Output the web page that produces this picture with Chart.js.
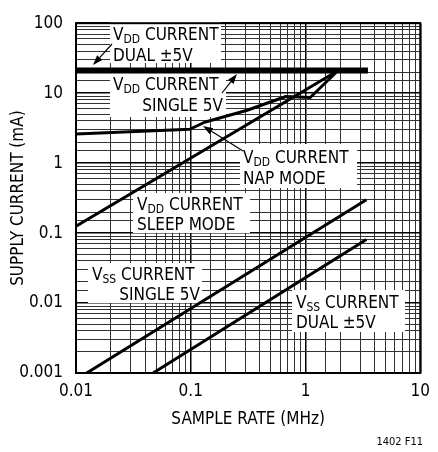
<!DOCTYPE html>
<html>
<head>
<meta charset="utf-8">
<script src="https://cdn.jsdelivr.net/npm/chart.js@4"></script>
<style>
  html, body { margin: 0; padding: 0; background: #fff; }
  canvas { display: block; }
</style>
</head>
<body>
<canvas id="chart" width="438" height="452"></canvas>
<script>
// tick labels (only the decades get a label)
const xTickLabels = ['0.01', '0.1', '1', '10'];
const yTickLabels = ['0.001', '0.01', '0.1', '1', '10', '100'];

// sample rate (MHz) / supply current (mA)
const rateVddDual = [0.01, 3.5];
const vddDual = [21, 21];
const rateVddNap = [0.01, 0.098, 0.132, 0.31, 0.675, 1.1, 1.91];
const vddNap = [2.6, 3.05, 3.84, 5.7, 8.96, 8.67, 20.9];
const rateVddSleep = [0.01, 1.91];
const vddSleep = [0.125, 20.9];
const rateVssSingle = [0.0124, 3.39];
const vssSingle = [0.001, 0.30];
const rateVssDual = [0.047, 3.39];
const vssDual = [0.001, 0.081];

const FAMILY = '"Liberation Sans Narrow", "Arial Narrow", "DejaVu Sans Condensed", sans-serif';

function pairs(xs, ys) {
  return xs.map((x, i) => ({ x: x, y: ys[i] }));
}

function isDecade(v) {
  const l = Math.log10(v);
  return Math.abs(l - Math.round(l)) < 1e-6;
}

function series(xs, ys, width) {
  return {
    data: pairs(xs, ys),
    showLine: true,
    borderColor: '#000',
    borderWidth: width,
    pointRadius: 0,
    borderCapStyle: 'butt',
    borderJoinStyle: 'round',
    tension: 0
  };
}

// callout boxes: [x, y, w, h], text lines, optional arrow [fromX, fromY, toX, toY]
const notes = [
  { box: [110, 22, 111, 41],
    lines: [{ x: 113, y: 40, parts: [['V'], ['DD', 1], [' CURRENT']] },
            { x: 113, y: 61, parts: [['DUAL \u00B15V']] }],
    arrow: [112, 44, 93, 65] },
  { box: [110, 73, 116, 44],
    lines: [{ x: 113, y: 90, parts: [['V'], ['DD', 1], [' CURRENT']] },
            { x: 223, y: 111, parts: [['SINGLE 5V']], right: true }],
    arrow: [222, 93, 237, 74] },
  { box: [240, 144, 117, 44],
    lines: [{ x: 243, y: 163, parts: [['V'], ['DD', 1], [' CURRENT']] },
            { x: 243, y: 184, parts: [['NAP MODE']] }],
    arrow: [243, 151, 203, 126] },
  { box: [133, 193, 117, 40],
    lines: [{ x: 137, y: 210, parts: [['V'], ['DD', 1], [' CURRENT']] },
            { x: 137, y: 230, parts: [['SLEEP MODE']] }] },
  { box: [88, 263, 114, 40],
    lines: [{ x: 92, y: 280, parts: [['V'], ['SS', 1], [' CURRENT']] },
            { x: 200, y: 300, parts: [['SINGLE 5V']], right: true }] },
  { box: [292, 290, 113, 42],
    lines: [{ x: 296, y: 308, parts: [['V'], ['SS', 1], [' CURRENT']] },
            { x: 296, y: 328, parts: [['DUAL \u00B15V']] }] }
];

function drawParts(ctx, parts, x, y, right) {
  const fonts = parts.map(p => (p[1] ? '12px ' : '17px ') + FAMILY);
  const widths = parts.map((p, i) => { ctx.font = fonts[i]; return ctx.measureText(p[0]).width; });
  let cx = right ? x - widths.reduce((a, b) => a + b, 0) : x;
  ctx.textAlign = 'left';
  ctx.textBaseline = 'alphabetic';
  parts.forEach((p, i) => {
    ctx.font = fonts[i];
    ctx.fillText(p[0], cx, y + (p[1] ? 3 : 0));
    cx += widths[i];
  });
}

function drawArrow(ctx, a) {
  const [x1, y1, x2, y2] = a;
  const ang = Math.atan2(y2 - y1, x2 - x1);
  const len = 10, half = 3.5;
  const bx = x2 - len * Math.cos(ang), by = y2 - len * Math.sin(ang);
  ctx.beginPath();
  ctx.moveTo(x1, y1);
  ctx.lineTo(bx, by);
  ctx.lineWidth = 1.2;
  ctx.strokeStyle = '#000';
  ctx.stroke();
  ctx.beginPath();
  ctx.moveTo(x2, y2);
  ctx.lineTo(bx + half * Math.sin(ang), by - half * Math.cos(ang));
  ctx.lineTo(bx - half * Math.sin(ang), by + half * Math.cos(ang));
  ctx.closePath();
  ctx.fillStyle = '#000';
  ctx.fill();
}

const notesPlugin = {
  id: 'notes',
  beforeDatasetsDraw(chart) {
    const ctx = chart.ctx;
    const a = chart.chartArea;
    ctx.save();
    ctx.fillStyle = '#fff';
    notes.forEach(n => ctx.fillRect(n.box[0], n.box[1], n.box[2], n.box[3]));
    ctx.fillStyle = '#000';
    notes.forEach(n => n.lines.forEach(l => drawParts(ctx, l.parts, l.x, l.y, l.right)));
    ctx.lineWidth = 2;
    ctx.strokeStyle = '#000';
    ctx.strokeRect(a.left, a.top, a.right - a.left, a.bottom - a.top);
    ctx.restore();
  },
  afterDatasetsDraw(chart) {
    const ctx = chart.ctx;
    ctx.save();
    notes.forEach(n => { if (n.arrow) drawArrow(ctx, n.arrow); });
    ctx.fillStyle = '#000';
    ctx.font = '11px ' + FAMILY;
    ctx.textAlign = 'right';
    ctx.fillText('1402 F11', 423, 445);
    ctx.restore();
  }
};

new Chart(document.getElementById('chart'), {
  type: 'scatter',
  data: {
    datasets: [
      series(rateVddDual, vddDual, 6),
      series(rateVddNap, vddNap, 3),
      series(rateVddSleep, vddSleep, 3),
      series(rateVssSingle, vssSingle, 3),
      series(rateVssDual, vssDual, 3)
    ]
  },
  options: {
    responsive: false,
    animation: false,
    layout: { padding: { top: 20, right: 11, left: 0, bottom: 0 } },
    plugins: { legend: { display: false }, tooltip: { enabled: false } },
    scales: {
      x: {
        type: 'logarithmic',
        min: 0.01,
        max: 10,
        afterFit: s => { s.height = 79; },
        border: { display: false },
        grid: {
          drawTicks: false,
          color: c => isDecade(c.tick.value) ? '#000' : '#333',
          lineWidth: c => isDecade(c.tick.value) ? 1.5 : 1
        },
        ticks: {
          autoSkip: false,
          maxRotation: 0,
          padding: 8,
          color: '#000',
          font: { family: FAMILY, size: 17 },
          callback: v => isDecade(v) ? xTickLabels[Math.round(Math.log10(v)) + 2] : ''
        },
        title: {
          display: true,
          text: 'SAMPLE RATE (MHz)',
          color: '#000',
          font: { family: FAMILY, size: 17 },
          padding: { top: 0, bottom: 22 }
        }
      },
      y: {
        type: 'logarithmic',
        min: 0.001,
        max: 100,
        afterFit: s => { s.width = 76; },
        border: { display: false },
        grid: {
          drawTicks: false,
          color: c => isDecade(c.tick.value) ? '#000' : '#333',
          lineWidth: c => isDecade(c.tick.value) ? 1.5 : 1
        },
        ticks: {
          autoSkip: false,
          padding: 13,
          color: '#000',
          font: { family: FAMILY, size: 17 },
          callback: v => isDecade(v) ? yTickLabels[Math.round(Math.log10(v)) + 3] : ''
        },
        title: {
          display: true,
          text: 'SUPPLY CURRENT (mA)',
          color: '#000',
          font: { family: FAMILY, size: 17 },
          padding: { top: 8, bottom: 0 }
        }
      }
    }
  },
  plugins: [notesPlugin]
});
</script>
</body>
</html>
